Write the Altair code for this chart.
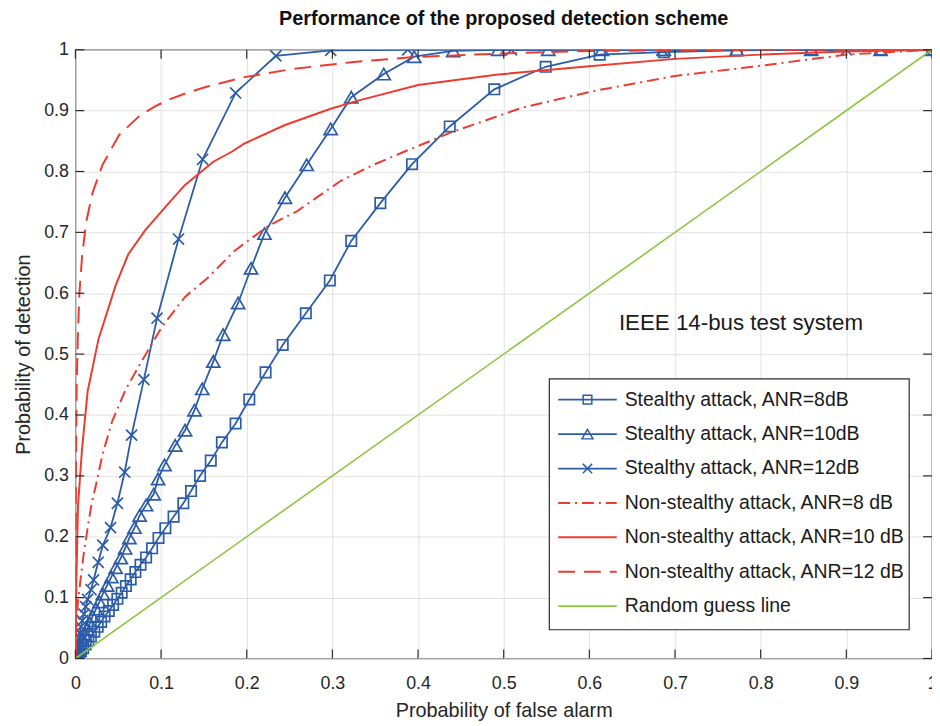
import altair as alt
import pandas as pd

# ---------------- data ----------------
tick_values = [0, 0.1, 0.2, 0.3, 0.4, 0.5, 0.6, 0.7, 0.8, 0.9, 1.0]

s8_pf = [0, 0.0014, 0.0028, 0.0045, 0.0065, 0.009, 0.012, 0.015, 0.018, 0.022, 0.026, 0.030,
         0.034, 0.039, 0.044, 0.049, 0.054, 0.059, 0.0645, 0.070, 0.076, 0.0825, 0.0895, 0.097,
         0.105, 0.1146, 0.126, 0.135, 0.1455, 0.158, 0.171, 0.187, 0.203, 0.222, 0.242, 0.269,
         0.297, 0.322, 0.356, 0.393, 0.437, 0.489, 0.549, 0.612, 0.687, 0.772, 0.859, 0.94, 1.0]
s8_pd = [0, 0.002, 0.005, 0.008, 0.012, 0.017, 0.023, 0.029, 0.036, 0.044, 0.052, 0.060,
         0.069, 0.078, 0.088, 0.098, 0.108, 0.119, 0.130, 0.142, 0.154, 0.166, 0.181, 0.198,
         0.214, 0.233, 0.255, 0.275, 0.300, 0.325, 0.355, 0.386, 0.4255, 0.470, 0.515, 0.567,
         0.621, 0.686, 0.748, 0.812, 0.874, 0.935, 0.972, 0.992, 0.996, 0.999, 1.0, 1.0, 1.0]

s10_pf = [0, 0.0012, 0.0022, 0.0034, 0.0048, 0.0065, 0.0085, 0.011, 0.014, 0.017, 0.020, 0.024,
          0.028, 0.032, 0.037, 0.042, 0.047, 0.053, 0.058, 0.063, 0.069, 0.075, 0.0825, 0.0914,
          0.0965, 0.104, 0.1165, 0.128, 0.139, 0.148, 0.161, 0.1725, 0.19, 0.205, 0.2207, 0.2446,
          0.270, 0.298, 0.322, 0.360, 0.3955, 0.441, 0.4935, 0.552, 0.6146, 0.687, 0.772, 0.859,
          0.94, 1.0]
s10_pd = [0, 0.004, 0.008, 0.013, 0.018, 0.024, 0.031, 0.039, 0.048, 0.058, 0.069, 0.081,
          0.093, 0.106, 0.120, 0.134, 0.149, 0.165, 0.181, 0.198, 0.215, 0.235, 0.252, 0.270,
          0.295, 0.318, 0.350, 0.375, 0.408, 0.443, 0.488, 0.532, 0.584, 0.641, 0.698, 0.757,
          0.811, 0.870, 0.922, 0.960, 0.9886, 0.998, 1.0, 1.0, 1.0, 1.0, 1.0, 1.0,
          1.0, 1.0]

s12_pf = [0, 0.0006, 0.0012, 0.002, 0.003, 0.004, 0.005, 0.0065, 0.008, 0.010, 0.012, 0.0142,
          0.0182, 0.0212, 0.0266, 0.032, 0.041, 0.049, 0.0575, 0.0656, 0.0799, 0.0953, 0.1204,
          0.1485, 0.187, 0.234, 0.298, 0.388, 0.509, 0.685, 0.900, 1.0]
s12_pd = [0, 0.005, 0.011, 0.018, 0.026, 0.034, 0.042, 0.052, 0.062, 0.073, 0.085, 0.097,
          0.113, 0.129, 0.158, 0.186, 0.215, 0.255, 0.306, 0.367, 0.458, 0.559, 0.689,
          0.820, 0.929, 0.990, 0.999, 1.0, 1.0, 1.0, 1.0, 1.0]

n8_pf = [0, 0.001, 0.0027, 0.006, 0.010, 0.0143, 0.019, 0.024, 0.0316, 0.043, 0.0587, 0.078,
         0.101, 0.128, 0.155, 0.186, 0.2245, 0.259, 0.309, 0.348, 0.383, 0.44, 0.522, 0.6045,
         0.70, 0.796, 0.90, 1.0]
n8_pd = [0, 0.05, 0.09, 0.13, 0.175, 0.215, 0.255, 0.285, 0.335, 0.39, 0.442, 0.49,
         0.545, 0.594, 0.626, 0.670, 0.71, 0.735, 0.784, 0.811, 0.832, 0.865, 0.905, 0.932,
         0.957, 0.973, 0.992, 1.0]

n10_pf = [0, 0.001, 0.003, 0.0077, 0.0143, 0.027, 0.047, 0.0617, 0.0818, 0.109, 0.128, 0.161,
          0.182, 0.1975, 0.244, 0.298, 0.329, 0.40, 0.491, 0.60, 0.70, 0.80, 0.90, 1.0]
n10_pd = [0, 0.12, 0.25, 0.344, 0.439, 0.525, 0.613, 0.664, 0.704, 0.748, 0.778, 0.816,
          0.832, 0.846, 0.876, 0.903, 0.916, 0.942, 0.959, 0.973, 0.985, 0.992, 0.997, 1.0]

n12_pf = [0, 0.0002, 0.0005, 0.0008, 0.0015, 0.0027, 0.0046, 0.0077, 0.0124, 0.020, 0.0316,
          0.051, 0.076, 0.093, 0.109, 0.13, 0.155, 0.1975, 0.2515, 0.325, 0.3955, 0.5, 0.6, 0.8, 1.0]
n12_pd = [0, 0.12, 0.25, 0.344, 0.453, 0.523, 0.599, 0.659, 0.716, 0.765, 0.811,
          0.86, 0.893, 0.907, 0.918, 0.929, 0.94, 0.955, 0.968, 0.980, 0.988, 0.994, 0.998, 1.0, 1.0]

rg_pf = [0, 1]
rg_pd = [0, 1]

legend_labels = [
    "Stealthy attack, ANR=8dB",
    "Stealthy attack, ANR=10dB",
    "Stealthy attack, ANR=12dB",
    "Non-stealthy attack, ANR=8 dB",
    "Non-stealthy attack, ANR=10 dB",
    "Non-stealthy attack, ANR=12 dB",
    "Random guess line",
]

# ---------------- styling ----------------
BLUE = "#2c5ca8"
RED = "#ee3b30"
GREEN = "#8cc63f"
AXC = "#2b2b2b"
FONT = "Liberation Sans"
W, H = 864, 614

X_CROSS = "M-1,-1L1,1M1,-1L-1,1"

series = [
    (legend_labels[0], s8_pf, s8_pd, BLUE, None, "square", 1.8),
    (legend_labels[1], s10_pf, s10_pd, BLUE, None, "triangle-up", 1.8),
    (legend_labels[2], s12_pf, s12_pd, BLUE, None, X_CROSS, 1.8),
    (legend_labels[3], n8_pf, n8_pd, RED, [12, 5, 2, 5], None, 2.0),
    (legend_labels[4], n10_pf, n10_pd, RED, None, None, 2.0),
    (legend_labels[5], n12_pf, n12_pd, RED, [17, 9], None, 2.0),
    (legend_labels[6], rg_pf, rg_pd, GREEN, None, None, 1.6),
]
marker_size = {"square": 110, "triangle-up": 175, X_CROSS: 125}

xscale = alt.Scale(domain=[0, 1], nice=False, zero=False)
yscale = alt.Scale(domain=[0, 1], nice=False, zero=False)
xaxis = alt.Axis(values=tick_values, format="~g", grid=True, labelFlush=False,
                 labelPadding=16, titlePadding=9, labelOverlap=False)
yaxis = alt.Axis(values=tick_values, format="~g", grid=True, labelFlush=False,
                 labelPadding=7, titlePadding=10, labelOverlap=False)


def X(field):
    return alt.X(field, type="quantitative", scale=xscale, axis=xaxis,
                 title="Probability of false alarm")


def Y(field):
    return alt.Y(field, type="quantitative", scale=yscale, axis=yaxis,
                 title="Probability of detection")


layers = []
for i, (name, xs, ys, col, dash, shape, sw) in enumerate(series):
    d = pd.DataFrame({"pf": xs, "pd": ys, "k": list(range(len(xs)))})
    kw = dict(color=col, strokeWidth=sw, clip=True)
    if dash:
        kw["strokeDash"] = dash
    layers.append(alt.Chart(d).mark_line(**kw).encode(x=X("pf"), y=Y("pd"), order="k:Q"))
    if shape:
        layers.append(alt.Chart(d).mark_point(shape=shape, filled=False, color=col,
                                              strokeWidth=1.7, size=marker_size[shape],
                                              opacity=1, clip=True)
                      .encode(x=X("pf"), y=Y("pd")))

# inward ticks (MATLAB box style)
ticks = pd.DataFrame({"t": tick_values})
TL = 9
layers.append(alt.Chart(ticks).mark_rule(color=AXC, strokeWidth=1.2)
              .encode(x=X("t"), y=alt.value(H), y2=alt.value(H - TL)))
layers.append(alt.Chart(ticks).mark_rule(color=AXC, strokeWidth=1.2)
              .encode(x=X("t"), y=alt.value(0), y2=alt.value(TL)))
layers.append(alt.Chart(ticks).mark_rule(color=AXC, strokeWidth=1.2)
              .encode(y=Y("t"), x=alt.value(0), x2=alt.value(TL)))
layers.append(alt.Chart(ticks).mark_rule(color=AXC, strokeWidth=1.2)
              .encode(y=Y("t"), x=alt.value(W), x2=alt.value(W - TL)))

# annotation
ann = pd.DataFrame({"pf": [0.777], "pd": [0.551], "txt": ["IEEE 14-bus test system"]})
layers.append(alt.Chart(ann).mark_text(font=FONT, fontSize=22.5, color="#1a1a1a",
                                       align="center", baseline="middle")
              .encode(x=X("pf"), y=Y("pd"), text="txt:N"))

# legend box (drawn manually to combine line styles with markers)
one = pd.DataFrame({"a": [0]})
LX0, LX1, LY0, LY1 = 478, 841, 332, 585
layers.append(alt.Chart(one).mark_rect(fill="white", stroke=AXC, strokeWidth=1.2)
              .encode(x=alt.value(LX0), x2=alt.value(LX1), y=alt.value(LY0), y2=alt.value(LY1)))
ROW0, DY = 353, 34.7
for i, (name, xs, ys, col, dash, shape, sw) in enumerate(series):
    yy = ROW0 + i * DY
    kw = dict(color=col, strokeWidth=sw)
    if dash:
        kw["strokeDash"] = dash
    layers.append(alt.Chart(one).mark_rule(**kw)
                  .encode(x=alt.value(487), x2=alt.value(546), y=alt.value(yy)))
    if shape:
        layers.append(alt.Chart(one).mark_point(shape=shape, filled=False, color=col,
                                                strokeWidth=1.5, size=marker_size[shape] * 0.7,
                                                opacity=1)
                      .encode(x=alt.value(516.5), y=alt.value(yy)))
    layers.append(alt.Chart(one).mark_text(text=name, font=FONT, fontSize=19.6, color="#1a1a1a",
                                           align="left", baseline="middle")
                  .encode(x=alt.value(554), y=alt.value(yy)))

chart = (
    alt.layer(*layers)
    .properties(
        width=W, height=H,
        title=alt.TitleParams("Performance of the proposed detection scheme", font=FONT,
                              fontSize=20, fontWeight="bold", color="#111111",
                              anchor="middle", offset=12),
        autosize=alt.AutoSizeParams(type="none"),
        padding={"left": 68, "top": 39, "right": 0, "bottom": 65},
    )
    .configure_view(stroke=AXC, strokeWidth=1.2)
    .configure_axis(labelFont=FONT, titleFont=FONT, labelFontSize=18, titleFontSize=20,
                    labelColor="#262626", titleColor="#262626", titleFontWeight="normal",
                    gridColor="#e2e2e2", gridWidth=1, domain=False, ticks=False)
)

chart.save("out.html", embed_options={"renderer": "svg", "actions": False})
